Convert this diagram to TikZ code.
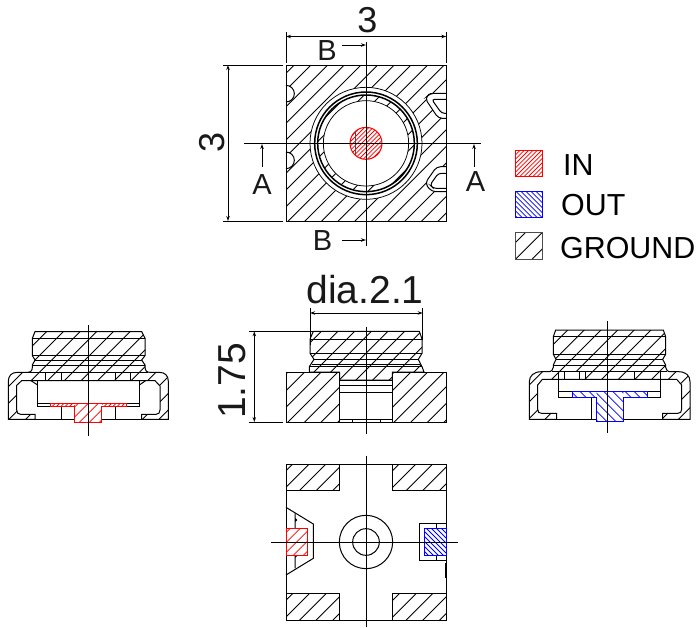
\documentclass[tikz,border=0pt]{standalone}
\usepackage{fontspec}
\setmainfont{Liberation Sans}
\usetikzlibrary{arrows.meta}
\newcommand{\HatchUp}[6]{\begin{scope}\clip #1;\foreach \i in {-#5,...,#5}{\draw[#6] ({#2+\i*#4+700},{#3-700}) -- ({#2+\i*#4-700},{#3+700});}\end{scope}}
\newcommand{\HatchDn}[6]{\begin{scope}\clip #1;\foreach \i in {-#5,...,#5}{\draw[#6] ({#2+\i*#4+700},{#3+700}) -- ({#2+\i*#4-700},{#3-700});}\end{scope}}
\tikzset{
 ln/.style={line width=1pt,black},
 thin ln/.style={line width=0.75pt,black},
 thick ln/.style={line width=1.5pt,black},
 hgnd/.style={line width=0.85pt,black},
 hred/.style={line width=0.8pt,red},
 hblu/.style={line width=0.8pt,blue},
 redln/.style={line width=1pt,red},
 bluln/.style={line width=1pt,blue},
 dimln/.style={line width=0.7pt,black,{Stealth[length=5pt,width=3.5pt,open]}-{Stealth[length=5pt,width=3.5pt,open]}},
 arrln/.style={line width=0.7pt,black,-{Stealth[length=5pt,width=3.5pt,open]}},
 big/.style={font=\fontsize{36}{36}\selectfont,text=black!90,inner sep=0pt},
 bigger/.style={font=\fontsize{39}{39}\selectfont,text=black!90,inner sep=0pt},
 lab/.style={font=\fontsize{29}{29}\selectfont,text=black!90,inner sep=0pt},
 leg/.style={font=\fontsize{30.4}{30}\selectfont,text=black,inner sep=0pt,anchor=west},
}
\def\leftbody{(105,65)--(425,65)--(435,85)--(435,137)--(425,150)--(435,165)--(435,172)..controls (436,182) and (440,187) .. (450,187)--(478,187)..controls (495,187) and (505,197) .. (505,214)--(505,328)--(425,328)--(425,313)--(468,313)..controls (476,313) and (480,308) .. (480,300)--(480,228)--(465,212)--(65,212)--(50,226)--(50,300)..controls (50,308) and (54,313) .. (62,313)--(105,313)--(105,328)--(25,328)--(25,214)..controls (25,197) and (35,187) .. (52,187)--(82,187)..controls (92,187) and (97,182) .. (97,172)--(97,165)--(105,150)--(97,137)--(97,85)--cycle}
\def\rightbody{(137,60)--(460,60)--(467,80)--(467,133)--(458,148)--(467,165)--(467,172)..controls (468,180) and (472,185) .. (482,185)--(505,185)..controls (528,185) and (540,197) .. (540,215)--(540,328)--(458,328)--(458,310)--(503,310)..controls (511,310) and (515,306) .. (515,298)--(515,225)--(500,208)--(97,208)--(83,225)--(83,298)..controls (83,306) and (87,310) .. (95,310)--(140,310)--(140,328)--(58,328)--(58,215)..controls (58,197) and (72,185) .. (95,185)--(115,185)..controls (125,185) and (128,180) .. (130,172)--(130,165)--(138,148)--(130,133)--(130,80)--cycle}
\def\midbody{(280,184)--(598,184)--(606,207)--(606,250)--(595,268)--(606,290)--(612,306)--(517,306)--(517,330)--(359,330)--(359,306)--(268,306)--(268,290)--(282,268)--(270,250)--(270,207)--cycle}
\begin{document}
\begin{tikzpicture}[x=1pt,y=-1pt]
\useasboundingbox (0,0) rectangle (698,627);
\fill[white] (0,0) rectangle (698,627);

%% ---------- top view
\begin{scope}[shift={(210,0)},scale=1/3]
 \HatchUp{(228,196) rectangle (709,663)}{468}{430}{50}{15}{hgnd}
 \fill[white] (468,430) circle (168);
 \HatchUp{(468,430) circle (145)}{468}{430}{50}{6}{hgnd}
 \fill[white] (468,430) circle (128);
 % notches
 \fill[white] (228,306) arc (90:-90:25) -- cycle;
 \fill[white] (228,506) arc (90:-90:25) -- cycle;
 \draw[ln] (228,306) arc (90:-90:25);
 \draw[ln] (228,506) arc (90:-90:25);
 \path[fill=white,draw=black,line width=1pt,rounded corners=4pt] (709,280) -- (660,280) -- (645,295) -- (685,355) -- (709,355);
 \path[draw=black,line width=1pt,rounded corners=3pt] (709,298) -- (665,298) -- (695,340) -- (709,340);
 \draw[line width=1.5pt] (660,280) -- (709,280);
 \path[fill=white,draw=black,line width=1pt,rounded corners=4pt] (709,500) -- (680,500) -- (645,550) -- (665,575) -- (709,575);
 \path[draw=black,line width=1pt,rounded corners=3pt] (709,520) -- (685,520) -- (660,555) -- (670,565) -- (709,565);
 % square
 \draw[ln] (228,196) rectangle (709,663);
 % rings
 \draw[thin ln] (468,430) circle (168);
 \draw[thick ln] (468,430) circle (154);
 \draw[thick ln] (468,430) circle (145);
 \draw[thin ln] (468,430) circle (128);
 % centre pin
 \HatchUp{(468,430) circle (48)}{468}{430}{13}{8}{hred}
 \draw[redln] (468,430) circle (48);
 \draw[line width=0.4pt,black!70] (437,394) -- (437,466);
\end{scope}
% dimensions, top view
\coordinate (tdL) at (286,36.5); \coordinate (tdR) at (446.3,36.5);
\coordinate (ldT) at (228,65); \coordinate (ldB) at (228,221);
\draw[dimln] (tdL) -- (tdR);
\draw[thin ln] (286,32) -- (286,63);
\draw[thin ln] (446.3,32) -- (446.3,63);
\draw[dimln] (ldT) -- (ldB);
\draw[thin ln] (223,65) -- (283,65);
\draw[thin ln] (223,221) -- (283,221);
\draw[ln] (244,143) -- (481,143);
\draw[ln] (366.5,42) -- (366.5,246);
\coordinate (aL) at (262,167); \coordinate (aLe) at (262,144);
\coordinate (aR) at (474,167); \coordinate (aRe) at (474,144);
\coordinate (bT) at (342,45); \coordinate (bTe) at (366,45);
\coordinate (bB) at (342,240); \coordinate (bBe) at (366,240);
\draw[arrln] (aL) -- (aLe);
\draw[arrln] (aR) -- (aRe);
\draw[arrln] (bT) -- (bTe);
\draw[arrln] (bB) -- (bBe);
\node[big] (dimw) at (367.5,20.5) {3};
\node[big,rotate=90] (dimh) at (212,142.5) {3};
\node[lab] (secAl) at (262,185) {A};
\node[lab] (secAr) at (475.5,182) {A};
\node[lab] (secBt) at (327,51) {B};
\node[lab] (secBb) at (322.5,241) {B};

%% ---------- legend
\begin{scope}[shift={(500,140)},scale=1/3]
 \HatchUp{(46,30) rectangle (128,108)}{87}{69}{13}{8}{hred}
 \draw[redln] (46,30) rectangle (128,108);
 \HatchDn{(46,155) rectangle (128,232)}{87}{193}{15}{8}{hblu}
 \draw[bluln] (46,155) rectangle (128,232);
 \HatchUp{(46,278) rectangle (128,357)}{87}{317}{50}{3}{hgnd}
 \draw[ln,black!70] (46,278) rectangle (128,357);
\end{scope}
\node[leg] (legin) at (563,165) {IN};
\node[leg] (legout) at (561,205.5) {OUT};
\node[leg] (leggnd) at (560,248.5) {GROUND};

%% ---------- left section
\begin{scope}[shift={(0,310)},scale=1/3]
 \HatchUp{\leftbody}{265}{190}{50}{12}{hgnd}
 \draw[ln] \leftbody;
 \draw[ln] (97,85) -- (435,85);
 \draw[ln] (97,137) -- (435,137);
 \draw[ln] (105,150) -- (425,150);
 \draw[ln] (97,165) -- (435,165);
 \draw[ln] (85,187) -- (445,187);
 \foreach \x in {137,185,345,392} \draw[ln] (\x,187) -- (\x,212);
 \draw[ln] (93,212) -- (113,225);
 \draw[ln] (437,212) -- (418,225);
 \draw[ln] (113,212) -- (113,290) -- (418,290) -- (418,212);
 \draw[ln] (113,280) -- (418,280);
 \draw[ln] (105,328) -- (425,328);
 \draw[ln] (183,290) -- (183,328);
 \draw[ln] (347,290) -- (347,328);
 \fill[white] (152,281) rectangle (378,289);
 \HatchUp{(152,281) rectangle (378,289)}{265}{285}{13}{12}{hred}
 \draw[redln] (152,281) rectangle (378,289);
 \fill[white] (224,281) rectangle (305,338);
 \HatchUp{(224,281) rectangle (305,338)}{265}{310}{30}{5}{hred}
 \draw[redln] (224,289) -- (224,338) -- (305,338) -- (305,289);
 \draw[ln] (265,45) -- (265,378);
\end{scope}

%% ---------- middle section
\begin{scope}[shift={(220,270)},scale=1/3]
 \HatchUp{\midbody}{438}{250}{50}{12}{hgnd}
 \HatchUp{(199,306) rectangle (359,456)}{279}{381}{50}{7}{hgnd}
 \HatchUp{(517,306) rectangle (680,456)}{598}{381}{50}{7}{hgnd}
 \draw[ln] \midbody;
 \draw[ln] (199,306) rectangle (359,456);
 \draw[ln] (517,306) rectangle (680,456);
 \draw[ln] (270,207) -- (606,207);
 \draw[ln] (270,250) -- (606,250);
 \draw[ln] (282,268) -- (595,268);
 \draw[ln] (275,283) -- (600,283);
 \draw[ln] (268,290) -- (606,290);
 \draw[ln] (359,330) -- (517,330);
 \draw[ln] (359,347) -- (517,347);
 \draw[ln] (359,367) -- (517,367);
 \draw[ln] (359,447) -- (517,447);
 \draw[ln] (359,456) -- (517,456);
 \draw[ln] (397,447) -- (397,456);
 \draw[ln] (480,447) -- (480,456);
 \draw[ln] (438,170) -- (438,493);
\end{scope}
\coordinate (ddL) at (310,313); \coordinate (ddR) at (422.7,313);
\coordinate (hdT) at (254.3,331.3); \coordinate (hdB) at (254.3,422);
\draw[dimln] (ddL) -- (ddR);
\draw[thin ln] (310,308) -- (310,345);
\draw[thin ln] (422.7,308) -- (422.7,340);
\draw[dimln] (hdT) -- (hdB);
\draw[thin ln] (249,331.3) -- (313,331.3);
\draw[thin ln] (249,422) -- (283,422);
\node[bigger] (dia) at (365,290) {dia.2.1};
\node[bigger,rotate=90] (hgt) at (232,381) {1.75};

%% ---------- right section
\begin{scope}[shift={(510,310)},scale=1/3]
 \HatchUp{\rightbody}{293}{190}{50}{12}{hgnd}
 \fill[white] (162,186) rectangle (208,209);
 \draw[ln] \rightbody;
 \draw[ln] (130,80) -- (467,80);
 \draw[ln] (130,133) -- (467,133);
 \draw[ln] (138,148) -- (458,148);
 \draw[ln] (130,165) -- (467,165);
 \draw[ln] (125,185) -- (472,185);
 \foreach \x in {145,162,208,225,373,450} \draw[ln] (\x,185) -- (\x,208);
 \draw[ln] (146,208) -- (146,262) -- (450,262) -- (450,208);
 \draw[ln] (146,243) -- (450,243);
 \draw[ln] (140,328) -- (458,328);
 \draw[ln] (243,262) -- (243,328);
 \fill[white] (187,244) rectangle (413,262);
 \HatchDn{(187,244) rectangle (413,262)}{300}{253}{27}{10}{hblu}
 \fill[white] (260,244) rectangle (340,335);
 \HatchDn{(260,244) rectangle (340,335)}{300}{290}{27}{7}{hblu}
 \draw[bluln] (187,243) -- (413,243) -- (413,262) -- (340,262) -- (340,335) -- (260,335) -- (260,262) -- (187,262) -- cycle;
 \draw[ln] (293,33) -- (293,368);
\end{scope}

%% ---------- bottom view
\begin{scope}[shift={(260,450)},scale=1/3]
 \foreach \a/\b in {78/42,398/42,78/431,398/431}{
  \HatchUp{(\a,\b) rectangle ++(160,79)}{\a+80}{\b+40}{50}{4}{hgnd}
  \draw[ln] (\a,\b) rectangle ++(160,79);
 }
 \draw[ln] (78,42) rectangle (558,510);
 \draw[ln] (78,172) -- (160,222) -- (160,325) -- (78,375);
 \draw[ln] (105,190) -- (105,215) arc (90:-90:5) -- (105,236);
 \draw[ln] (105,316) -- (105,322) arc (90:-90:4) -- (105,355);
 \draw[ln] (558,220) -- (478,220) -- (478,330) -- (558,330);
 \draw[ln] (528,220) -- (528,236);
 \draw[ln] (528,316) -- (528,330);
 \draw[line width=1.5pt] (556,340) -- (556,385);
 \fill[white] (78,236) rectangle (143,316);
 \HatchUp{(78,236) rectangle (143,316)}{110}{276}{30}{5}{hred}
 \draw[redln] (78,236) rectangle (143,316);
 \fill[white] (492,236) rectangle (558,316);
 \HatchDn{(492,236) rectangle (558,316)}{525}{276}{15}{9}{hblu}
 \draw[bluln] (492,236) rectangle (558,316);
 \draw[ln] (318,276) circle (80);
 \draw[ln] (318,276) circle (40);
 \draw[ln] (33,276) -- (595,276);
 \draw[ln] (318,17) -- (318,530);
\end{scope}
\end{tikzpicture}
\end{document}
